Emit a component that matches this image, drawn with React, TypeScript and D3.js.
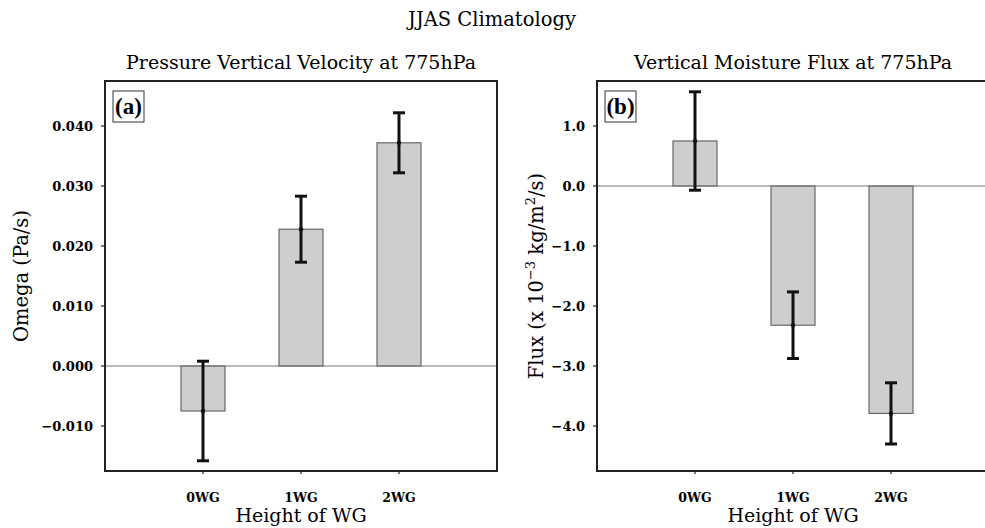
import React from "react";
import * as d3 from "d3";

const categories = ["0WG", "1WG", "2WG"];
const omegaValues = [-0.0075, 0.0228, 0.0372];
const omegaErrors = [0.0083, 0.0055, 0.005];
const omegaTicks = [-0.01, 0.0, 0.01, 0.02, 0.03, 0.04];
const fluxValues = [0.75, -2.32, -3.79];
const fluxErrors = [0.82, 0.555, 0.51];
const fluxTicks = [-4, -3, -2, -1, 0, 1];

const W = 985;
const H = 528;
const serif = "'DejaVu Serif', serif";

type PanelProps = {
  x0: number;
  title: string;
  letter: string;
  values: number[];
  errors: number[];
  ticks: number[];
  domain: [number, number];
  fmt: (v: number) => string;
  ylabel: React.ReactNode;
  ylabelX: number;
};

function Panel(p: PanelProps) {
  const top = 81;
  const bottom = 471;
  const width = 392;
  const x = d3.scaleLinear().domain([0, 4]).range([p.x0, p.x0 + width]);
  const y = d3.scaleLinear().domain(p.domain).range([bottom, top]);
  const bw = 44;
  const cx = (p.x0 + p.x0 + width) / 2;
  return (
    <g>
      <text x={cx} y={69} textAnchor="middle" fontFamily={serif} fontSize={19}>
        {p.title}
      </text>
      {p.values.map((v, i) => {
        const xc = x(i + 1);
        const y0 = y(0);
        const yv = y(v);
        return (
          <rect key={"b" + i} x={xc - bw / 2} y={Math.min(y0, yv)} width={bw} height={Math.abs(yv - y0)} fill="#cdcfce" stroke="#666" strokeWidth={1.2} />
        );
      })}
      <line x1={p.x0} x2={p.x0 + width} y1={y(0)} y2={y(0)} stroke="#777" strokeWidth={1.2} />
      {p.values.map((v, i) => {
        const xc = x(i + 1);
        const e = p.errors[i];
        return (
          <g key={"e" + i} stroke="#111" strokeWidth={3}>
            <line x1={xc} x2={xc} y1={y(v + e)} y2={y(v - e)} />
            <line x1={xc - 6} x2={xc + 6} y1={y(v + e)} y2={y(v + e)} />
            <line x1={xc - 6} x2={xc + 6} y1={y(v - e)} y2={y(v - e)} />
            <circle cx={xc} cy={y(v)} r={2.2} fill="#111" stroke="none" />
          </g>
        );
      })}
      <rect x={p.x0} y={top} width={width} height={bottom - top} fill="none" stroke="#222" strokeWidth={2} />
      {p.ticks.map((t) => (
        <g key={"t" + t}>
          <line x1={p.x0 - 4} x2={p.x0} y1={y(t)} y2={y(t)} stroke="#222" strokeWidth={1.2} />
          <text x={p.x0 - 12} y={y(t)} dy="0.35em" textAnchor="end" fontFamily={serif} fontSize={13} fontWeight="bold">
            {p.fmt(t)}
          </text>
        </g>
      ))}
      {categories.map((c, i) => (
        <g key={"c" + c}>
          <line x1={x(i + 1)} x2={x(i + 1)} y1={bottom} y2={bottom + 3} stroke="#222" strokeWidth={1.2} />
          <text x={x(i + 1)} y={502} textAnchor="middle" fontFamily={serif} fontSize={12.5} fontWeight="bold">
            {c}
          </text>
        </g>
      ))}
      <text x={cx} y={522} textAnchor="middle" fontFamily={serif} fontSize={19}>
        Height of WG
      </text>
      <text transform={`translate(${p.ylabelX},${(top + bottom) / 2}) rotate(-90)`} textAnchor="middle" fontFamily={serif} fontSize={19.5}>
        {p.ylabel}
      </text>
      <rect x={p.x0 + 8} y={91} width={31} height={31} fill="white" stroke="#333" strokeWidth={1} />
      <text x={p.x0 + 23.5} y={114} textAnchor="middle" fontFamily="'Liberation Serif', serif" fontWeight="bold" fontSize={23}>
        {p.letter}
      </text>
    </g>
  );
}

export default function App() {
  const fmtOmega = (v: number) => d3.format(".3f")(v).replace("-", "\u2212");
  const fmtFlux = (v: number) => d3.format(".1f")(v).replace("-", "\u2212");
  return (
    <div style={{ position: "absolute", left: 0, top: 0 }}>
      <svg width={W} height={H} style={{ display: "block", background: "white" }}>
        <text x={492} y={26} textAnchor="middle" fontFamily={serif} fontSize={19.5}>
          JJAS Climatology
        </text>
        <Panel
          x0={105}
          title="Pressure Vertical Velocity at 775hPa"
          letter="(a)"
          values={omegaValues}
          errors={omegaErrors}
          ticks={omegaTicks}
          domain={[-0.0175, 0.0475]}
          fmt={fmtOmega}
          ylabel="Omega (Pa/s)"
          ylabelX={28}
        />
        <Panel
          x0={597}
          title="Vertical Moisture Flux at 775hPa"
          letter="(b)"
          values={fluxValues}
          errors={fluxErrors}
          ticks={fluxTicks}
          domain={[-4.75, 1.75]}
          fmt={fmtFlux}
          ylabel={
            <>
              Flux (x 10
              <tspan dy={-8} fontSize={13}>−3</tspan>
              <tspan dy={8}> kg/m</tspan>
              <tspan dy={-8} fontSize={13}>2</tspan>
              <tspan dy={8}>/s)</tspan>
            </>
          }
          ylabelX={543}
        />
      </svg>
    </div>
  );
}
